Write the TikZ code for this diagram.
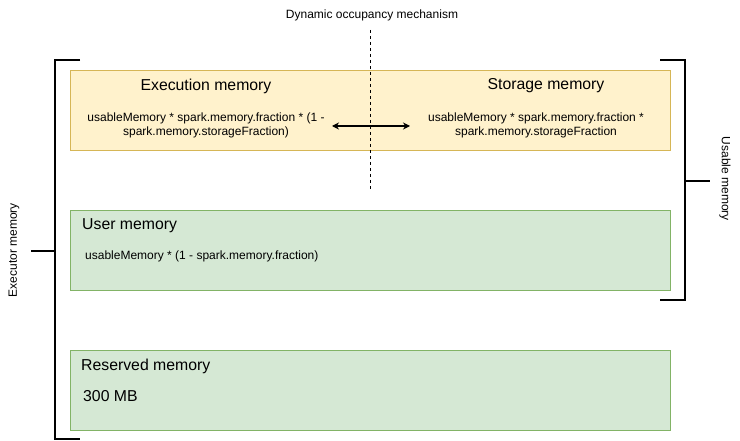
\documentclass[tikz,border=0pt]{standalone}
\usepackage{fontspec}
\setmainfont{Liberation Sans}
\usetikzlibrary{arrows.meta}
\definecolor{yfill}{HTML}{FFF2CC}
\definecolor{ydraw}{HTML}{D6B656}
\definecolor{gfill}{HTML}{D5E8D4}
\definecolor{gdraw}{HTML}{82B366}
\begin{document}
\begin{tikzpicture}[x=1pt,y=-1pt,
  ybox/.style={draw=ydraw,fill=yfill,line width=0.8pt,minimum width=600pt,minimum height=80pt,anchor=north west,inner sep=0pt},
  gbox/.style={draw=gdraw,fill=gfill,line width=0.8pt,minimum width=600pt,minimum height=80pt,anchor=north west,inner sep=0pt},
  title/.style={font=\fontsize{15.8}{18}\selectfont,inner sep=0pt},
  small/.style={font=\fontsize{12}{14}\selectfont,inner sep=0pt,align=center},
  brk/.style={line width=1.5pt,black},
  lab/.style={font=\fontsize{12}{14}\selectfont,inner sep=0pt}]
\useasboundingbox (0,0) rectangle (740,441);
\node[ybox] (exec) at (70,70) {};
\node[gbox] (user) at (70,210) {};
\node[gbox] (res) at (70,350) {};
% dashed line
\coordinate (dtop) at (370,30);
\coordinate (dbot) at (370,190);
\draw[dashed,line width=0.6pt] (dtop) -- (dbot);
\node[lab] (dyn) at (372,15) {Dynamic occupancy mechanism};
% texts
\node[title] (et) at (206,86) {Execution memory};
\node[small] (ef) at (206,125) {usableMemory * spark.memory.fraction * (1 -\\spark.memory.storageFraction)};
\node[title] (st) at (546,86) {Storage memory};
\node[small] (sf) at (536,125) {usableMemory * spark.memory.fraction *\\spark.memory.storageFraction};
\coordinate (al) at (332,126);
\coordinate (ar) at (410,126);
\draw[{Stealth[length=7pt,width=7pt]}-{Stealth[length=7pt,width=7pt]},line width=1.1pt] (al) -- (ar);
\node[title,anchor=west] (ut) at (82,226) {User memory};
\node[small,anchor=west] (uf) at (85,256) {usableMemory * (1 - spark.memory.fraction)};
\node[title,anchor=west] (rt) at (81,366) {Reserved memory};
\node[title,anchor=west] (rv) at (83,396) {300 MB};
% left bracket
\draw[brk] (80,60) -- (55,60) -- (55,439) -- (80,439);
\coordinate (lb) at (55,251);
\coordinate (ls) at (31,251);
\draw[brk] (lb) -- (ls);
\node[lab,rotate=90] (exm) at (14,250) {Executor memory};
% right bracket
\draw[brk] (660,60) -- (685,60) -- (685,300) -- (660,300);
\coordinate (rb) at (685,181);
\coordinate (rs) at (710,181);
\draw[brk] (rb) -- (rs);
\node[lab,rotate=-90] (usm) at (725,179) {Usable memory};
\end{tikzpicture}
\end{document}
